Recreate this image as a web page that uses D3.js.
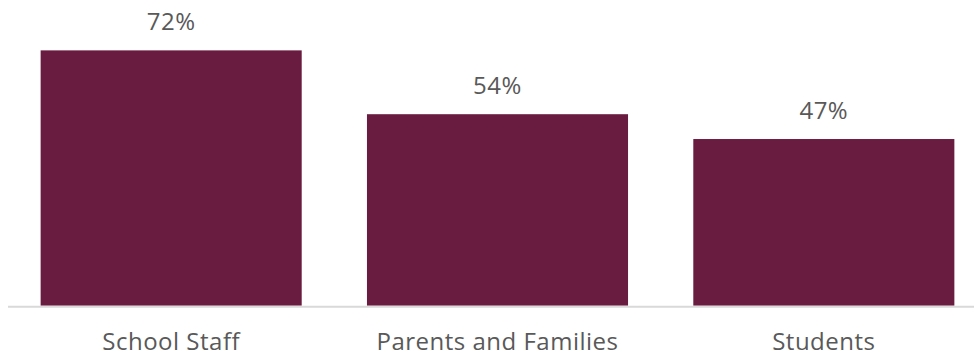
<!DOCTYPE html>
<html>
<head>
<meta charset="utf-8">
<script src="https://cdn.jsdelivr.net/npm/d3@7"></script>
<style>
  html, body { margin: 0; padding: 0; background: #fff; }
  svg text { font-family: "Open Sans", "Liberation Sans", sans-serif; fill: #595959; letter-spacing: 0.5px; }
</style>
</head>
<body>
<svg id="chart" width="974" height="356"></svg>
<script>
const categories = ["School Staff", "Parents and Families", "Students"];
const values = [0.72, 0.54, 0.47];
const barColor = "#6a1b40";

const svg = d3.select("#chart");
const plotLeft = 8, plotRight = 987, baseline = 305.7, plotTop = 22;

const x = d3.scaleBand().domain(categories).range([plotLeft, plotRight]).paddingInner(0.2).paddingOuter(0.1);
const y = d3.scaleLinear().domain([0, 0.8]).range([baseline, plotTop]);

svg.selectAll("rect.bar")
  .data(values)
  .join("rect")
  .attr("class", "bar")
  .attr("x", (d, i) => x(categories[i]))
  .attr("width", x.bandwidth())
  .attr("y", d => y(d))
  .attr("height", d => y(0) - y(d))
  .attr("fill", barColor);

// baseline
svg.append("line")
  .attr("x1", plotLeft).attr("x2", 974)
  .attr("y1", baseline + 1).attr("y2", baseline + 1)
  .attr("stroke", "#d9d9d9").attr("stroke-width", 2);

// value labels
svg.selectAll("text.val")
  .data(values)
  .join("text")
  .attr("class", "val")
  .attr("x", (d, i) => x(categories[i]) + x.bandwidth() / 2)
  .attr("y", d => y(d) - 20)
  .attr("text-anchor", "middle")
  .attr("font-size", 24)
  .text(d => d3.format(".0%")(d));

// category labels
svg.selectAll("text.cat")
  .data(categories)
  .join("text")
  .attr("class", "cat")
  .attr("x", d => x(d) + x.bandwidth() / 2)
  .attr("y", 349.5)
  .attr("text-anchor", "middle")
  .attr("font-size", 24)
  .text(d => d);
</script>
</body>
</html>
